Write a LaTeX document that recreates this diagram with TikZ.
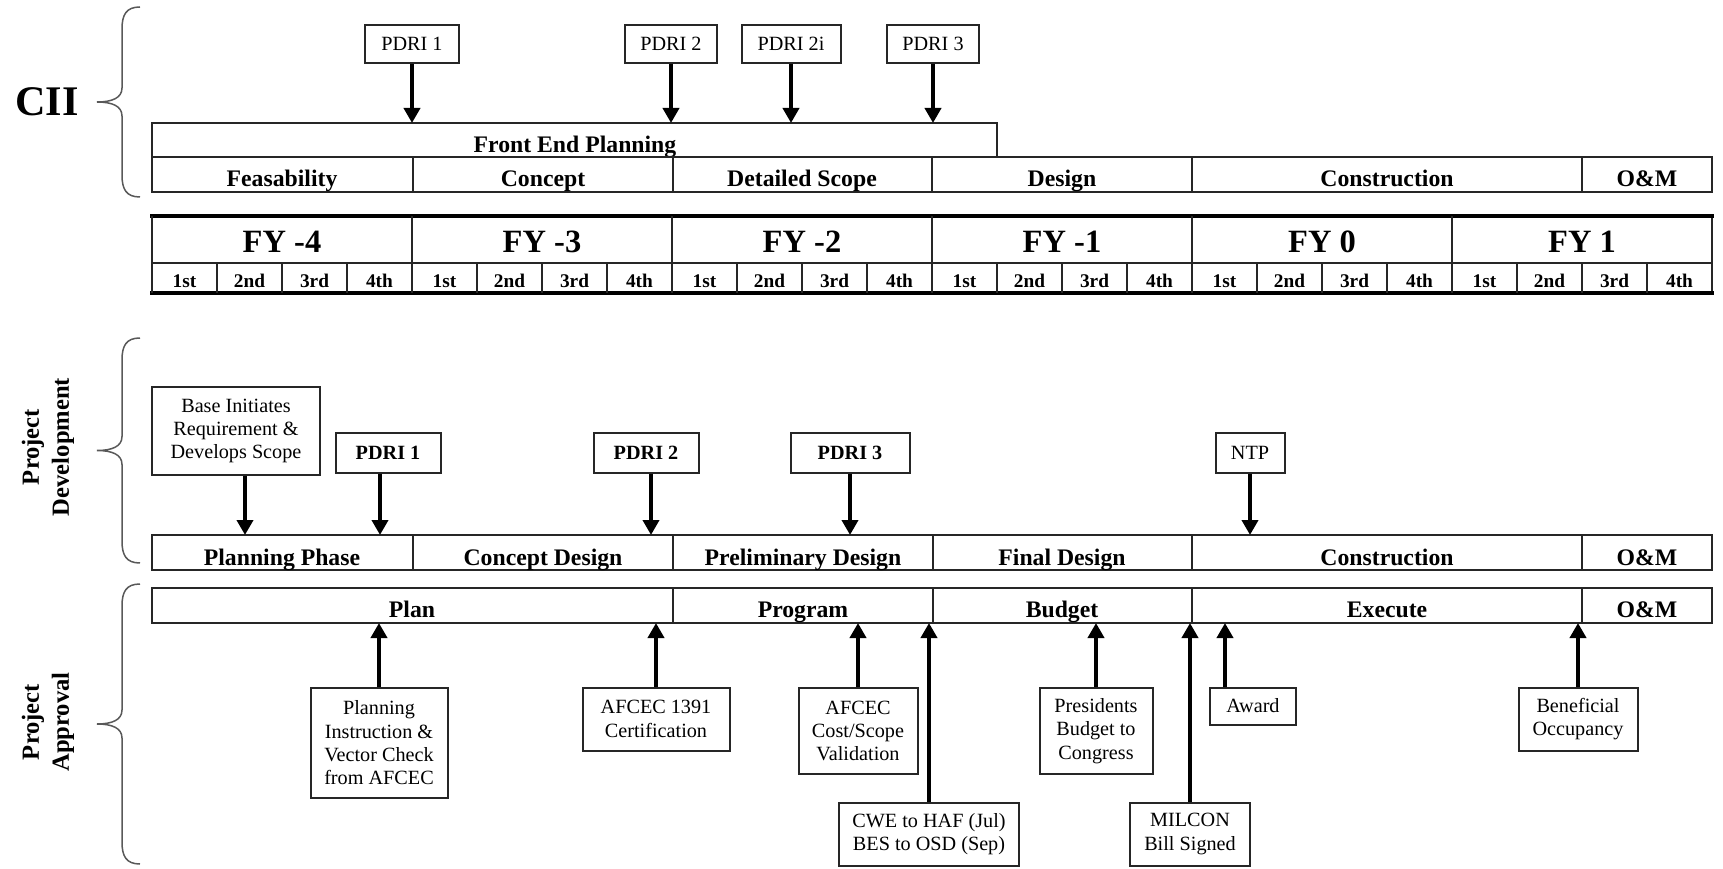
\documentclass[tikz,border=0pt]{standalone}
\usepackage{fontspec}
\setmainfont{Liberation Serif}
\usetikzlibrary{arrows.meta}

\begin{document}
\begin{tikzpicture}[x=0.2mm, y=-0.2mm,
    frame/.style={draw=black!85, line width=0.4mm},
    heavy/.style={draw=black, line width=0.75mm},
    mile/.style={draw=black!85, line width=0.4mm, fill=white, align=center, inner sep=1pt, font=\fontsize{11.5}{13.3}\selectfont},
    bmile/.style={mile, font=\fontsize{11.5}{13.3}\selectfont\bfseries},
    lbl/.style={anchor=base, font=\fontsize{13.5}{16}\selectfont\bfseries},
    fylbl/.style={anchor=base, font=\fontsize{18.5}{22}\selectfont\bfseries},
    qlbl/.style={anchor=base, font=\fontsize{11}{13}\selectfont\bfseries},
    side/.style={rotate=90, align=center, font=\fontsize{14}{17}\selectfont\bfseries},
    arr/.style={-{Triangle[length=3mm, width=3.2mm]}, line width=0.9mm},
    curly/.style={draw=black!65, line width=0.3mm}]
    \useasboundingbox (0,0) rectangle (1723,869);

    % Side labels and braces
    \node[font=\fontsize{24}{28}\selectfont\bfseries] (cii) at (47,102) {CII};
    \node[side] (pdev) at (48,447) {Project\\Development};
    \node[side] (papp) at (48,722) {Project\\Approval};
    \foreach \t/\b in {7/197, 338/563, 584/864}{
        \pgfmathsetmacro{\m}{(\t+\b)/2}
        \draw[curly] (140,\t) .. controls (126,\t) and (122,\t+8) .. (122,\t+22)
            -- (122,\m-14) .. controls (122,\m-4) and (112,\m) .. (97,\m)
            .. controls (112,\m) and (122,\m+4) .. (122,\m+14)
            -- (122,\b-22) .. controls (122,\b-8) and (126,\b) .. (140,\b);
    }

    % CII milestones
    \node[mile, minimum width=18.8mm, minimum height=7.6mm] (cp1) at (412,44) {PDRI 1};
    \node[mile, minimum width=18.4mm, minimum height=7.6mm] (cp2) at (671,44) {PDRI 2};
    \node[mile, minimum width=19.8mm, minimum height=7.6mm] (cp2i) at (791,44) {PDRI 2i};
    \node[mile, minimum width=18.4mm, minimum height=7.6mm] (cp3) at (933,44) {PDRI 3};

    % Front end planning
    \draw[frame] (152,123) rectangle (997,157);
    \coordinate (fetop) at (152,123);
    \node[lbl] (fep) at (575,153) {Front End Planning};
    \foreach \a in {cp1,cp2,cp2i,cp3}
        \draw[arr] (\a.south) -- (\a.south |- fetop);

    % CII phases
    \draw[frame] (152,157) rectangle (1712,192);
    \foreach \x in {413,673,932,1192,1582}
        \draw[frame] (\x,157) -- (\x,192);
    \node[lbl] (feas) at (282,187) {Feasability};
    \node[lbl] (conc) at (543,187) {Concept};
    \node[lbl] (dscope) at (802,187) {Detailed Scope};
    \node[lbl] (dsgn) at (1062,187) {Design};
    \node[lbl] (cons) at (1387,187) {Construction};
    \node[lbl] (om) at (1647,187) {O\&M};

    % Fiscal years and quarters
    \draw[frame] (152,216) rectangle (1712,293);
    \draw[frame] (152,263) -- (1712,263);
    \draw[heavy] (150,216) -- (1714,216);
    \draw[heavy] (150,293) -- (1714,293);
    \foreach \y [count=\k from 0] in {-4,-3,-2,-1,0,1}{
        \draw[frame] ({152+260*\k},216) -- ({152+260*\k},293);
        \node[fylbl] (fy\k) at ({282+260*\k},253) {FY \y};
        \foreach \q [count=\j from 0] in {1st,2nd,3rd,4th}{
            \draw[frame] ({152+260*\k+65*\j},263) -- ({152+260*\k+65*\j},293);
            \node[qlbl] (q\k\j) at ({184.5+260*\k+65*\j},288) {\q};
        }
    }

    % Project development milestones
    \node[mile, minimum width=33.6mm, minimum height=17.6mm] (base) at (236,431) {Base Initiates\\Requirement \&\\Develops Scope};
    \node[bmile, minimum width=21mm, minimum height=7.8mm] (dp1) at (388,453) {PDRI 1};
    \node[bmile, minimum width=21mm, minimum height=7.8mm] (dp2) at (646,453) {PDRI 2};
    \node[bmile, minimum width=23.8mm, minimum height=7.8mm] (dp3) at (850,453) {PDRI 3};
    \node[mile, minimum width=13.8mm, minimum height=7.8mm] (ntp) at (1250,453) {NTP};

    % Project development phases
    \draw[frame] (152,535) rectangle (1712,570);
    \foreach \x in {413,673,933,1192,1582}
        \draw[frame] (\x,535) -- (\x,570);
    \coordinate (devtop) at (152,535);
    \coordinate (baseft) at (245,535);
    \coordinate (dp1ft) at (380,535);
    \coordinate (dp2ft) at (651,535);
    \node[lbl] (plph) at (282,565) {Planning Phase};
    \node[lbl] (cdes) at (543,565) {Concept Design};
    \node[lbl] (pdes) at (803,565) {Preliminary Design};
    \node[lbl] (fdes) at (1062,565) {Final Design};
    \node[lbl] (dcons) at (1387,565) {Construction};
    \node[lbl] (dom) at (1647,565) {O\&M};
    \draw[arr] (base.south -| baseft) -- (baseft);
    \draw[arr] (dp1.south -| dp1ft) -- (dp1ft);
    \draw[arr] (dp2.south -| dp2ft) -- (dp2ft);
    \draw[arr] (dp3.south) -- (dp3.south |- devtop);
    \draw[arr] (ntp.south) -- (ntp.south |- devtop);

    % Project approval phases
    \draw[frame] (152,588) rectangle (1712,623);
    \foreach \x in {673,933,1192,1582}
        \draw[frame] (\x,588) -- (\x,623);
    \coordinate (appbot) at (152,623);
    \node[lbl] (plan) at (412,617) {Plan};
    \node[lbl] (prog) at (803,617) {Program};
    \node[lbl] (budg) at (1062,617) {Budget};
    \node[lbl] (exec) at (1387,617) {Execute};
    \node[lbl] (aom) at (1647,617) {O\&M};

    % Project approval milestones
    \node[mile, minimum width=27.4mm, minimum height=22mm] (pinst) at (379,743) {Planning\\Instruction \&\\Vector Check\\from AFCEC};
    \node[mile, minimum width=29.4mm, minimum height=12.6mm] (cert) at (656,719) {AFCEC 1391\\Certification};
    \node[mile, minimum width=23.8mm, minimum height=17.2mm] (valid) at (858,731) {AFCEC\\Cost/Scope\\Validation};
    \node[mile, minimum width=36mm, minimum height=12.6mm] (cwe) at (929,834) {CWE to HAF (Jul)\\BES to OSD (Sep)};
    \node[mile, minimum width=22.6mm, minimum height=17.2mm] (pres) at (1096,731) {Presidents\\Budget to\\Congress};
    \node[mile, minimum width=24mm, minimum height=12.6mm] (milcon) at (1190,834) {MILCON\\Bill Signed};
    \node[mile, minimum width=17.2mm, minimum height=7.4mm] (award) at (1253,706) {Award};
    \node[mile, minimum width=23.8mm, minimum height=12.6mm] (occ) at (1578,719) {Beneficial\\Occupancy};
    \coordinate (awardft) at (1225,623);
    \foreach \a in {pinst,cert,valid,cwe,pres,milcon,occ}
        \draw[arr] (\a.north) -- (\a.north |- appbot);
    \draw[arr] (award.north -| awardft) -- (awardft);

\end{tikzpicture}
\end{document}
